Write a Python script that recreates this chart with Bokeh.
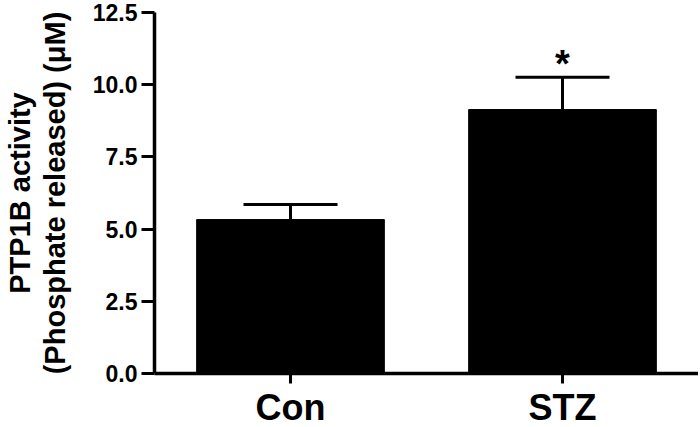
from bokeh.plotting import figure
from bokeh.models import ColumnDataSource, Whisker, TeeHead, FixedTicker, PrintfTickFormatter, Range1d, FactorRange
from bokeh.core.properties import value
from bokeh.embed import file_html
from bokeh.resources import INLINE

groups = ["Con", "STZ"]
means = [5.33, 9.14]
errors = [0.52, 1.12]
y_ticks = [0.0, 2.5, 5.0, 7.5, 10.0, 12.5]
sig_marks = ["", "*"]

upper = [m + e for m, e in zip(means, errors)]
src = ColumnDataSource(dict(g=groups, m=means, u=upper, s=sig_marks))

FONT = "Liberation Sans"

p = figure(x_range=FactorRange(*groups, range_padding=0), y_range=Range1d(0, 12.5),
           frame_width=544, frame_height=361, output_backend="svg", toolbar_location=None,
           min_border_left=149, min_border_right=0, min_border_top=12, min_border_bottom=0)
p.outline_line_color = None
p.grid.visible = False
p.background_fill_color = "white"
p.border_fill_color = "white"

p.vbar(x="g", top="m", bottom=0, width=0.69, source=src, fill_color="black", line_color="black")

wh = Whisker(base="g", lower="m", upper="u", source=src, dimension="height",
             line_color="black", line_width=3,
             upper_head=TeeHead(size=94, line_width=3, line_color="black"), lower_head=None)
p.add_layout(wh)

p.text(x="g", y="u", text="s", source=src, text_align="center", text_baseline="bottom",
       text_font=value(FONT), text_font_style="bold", text_font_size="38px",
       text_color="black", y_offset=8)

for ax in (p.xaxis[0], p.yaxis[0]):
    ax.axis_line_width = 3.5
    ax.axis_line_color = "black"
    ax.major_tick_line_width = 3
    ax.major_tick_line_color = "black"
    ax.major_tick_in = 0
    ax.minor_tick_line_color = None
    ax.major_label_text_font = FONT
    ax.major_label_text_font_style = "bold"
    ax.major_label_text_color = "black"

p.yaxis.ticker = FixedTicker(ticks=y_ticks)
p.yaxis.formatter = PrintfTickFormatter(format="%.1f")
p.yaxis.major_tick_out = 13
p.yaxis.major_label_standoff = 4
p.yaxis.major_label_text_font_size = "23px"
p.yaxis.axis_label = "PTP1B activity\n(Phosphate released) (\u03bcM)"
p.yaxis.axis_label_text_font = FONT
p.yaxis.axis_label_text_font_style = "bold"
p.yaxis.axis_label_text_font_size = "29px"
p.yaxis.axis_label_text_line_height = 1.1
p.yaxis.axis_label_text_color = "black"
p.yaxis.axis_label_standoff = 19

p.xaxis.major_tick_out = 10
p.xaxis.major_label_standoff = 3
p.xaxis.axis_label_standoff = 0
p.xaxis.major_label_text_font_size = "36px"

open("out.html", "w").write(file_html(p, INLINE))
